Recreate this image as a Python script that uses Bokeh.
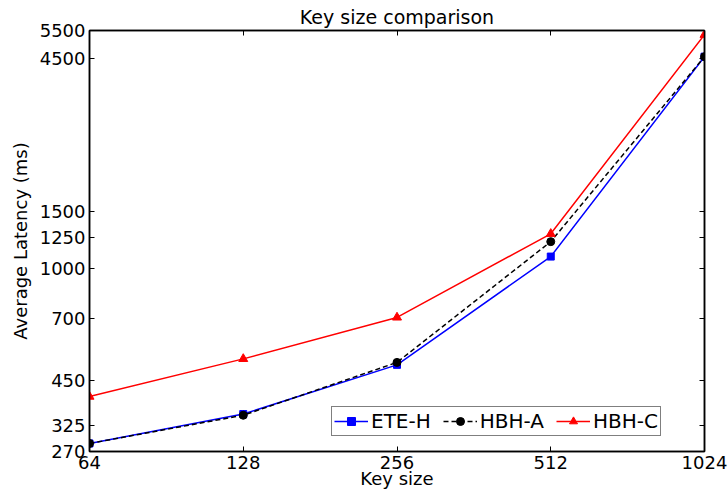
from bokeh.plotting import figure
from bokeh.models import FixedTicker, LogAxis, Legend, LegendItem, CustomJSTickFormatter
from bokeh.embed import file_html
from bokeh.resources import INLINE

key_sizes = [64, 128, 256, 512, 1024]
ete_h = [286, 353, 502, 1090, 4560]
hbh_a = [286, 350, 511, 1213, 4560]
hbh_c = [400, 524, 705, 1283, 5335]

x_ticks = [64, 128, 256, 512, 1024]
y_ticks = [270, 325, 450, 700, 1000, 1250, 1500, 4500, 5500]

FONT = "DejaVu Sans"
FS = "18px"

p = figure(width=728, height=494, x_axis_type="log", y_axis_type="log",
           x_range=(64, 1024), y_range=(270, 5500),
           output_backend="svg", toolbar_location=None,
           min_border_left=89, min_border_right=24, min_border_top=30, min_border_bottom=43)
p.title.text = "Key size comparison"
p.title.align = "center"
p.title.text_font = FONT
p.title.text_font_size = "19px"
p.title.text_font_style = "normal"
p.title.text_color = "black"
p.title.standoff = 6

p.grid.visible = False
p.outline_line_color = "black"
p.outline_line_width = 1.5
p.background_fill_color = "white"
p.border_fill_color = "white"

p.xaxis.ticker = FixedTicker(ticks=x_ticks)
p.yaxis.ticker = FixedTicker(ticks=y_ticks)
p.xaxis.major_label_overrides = {t: str(t) for t in x_ticks}
p.yaxis.major_label_overrides = {t: str(t) for t in y_ticks}
for ax in [p.xaxis[0], p.yaxis[0]]:
    ax.major_tick_in = 5
    ax.major_tick_out = 0
    ax.minor_tick_in = 0
    ax.minor_tick_out = 0
    ax.axis_line_width = 1.5
    ax.axis_line_color = "black"
    ax.major_tick_line_color = "black"
    ax.major_label_text_font = FONT
    ax.major_label_text_font_size = FS
    ax.major_label_text_color = "black"
    ax.axis_label_text_font = FONT
    ax.axis_label_text_font_size = FS
    ax.axis_label_text_font_style = "normal"
    ax.axis_label_text_color = "black"
p.xaxis.axis_label = "Key size"
p.yaxis.axis_label = "Average Latency (ms)"
p.xaxis.major_label_standoff = 4
p.xaxis.axis_label_standoff = -4
p.yaxis.major_label_standoff = 4
p.yaxis.axis_label_standoff = 6

top = LogAxis(ticker=FixedTicker(ticks=x_ticks), major_tick_in=5, major_tick_out=0,
              minor_tick_in=0, minor_tick_out=0, formatter=CustomJSTickFormatter(code="return ''"),
              major_label_standoff=0, axis_line_width=1.5, axis_line_color="black")
right = LogAxis(ticker=FixedTicker(ticks=y_ticks), major_tick_in=5, major_tick_out=0,
                minor_tick_in=0, minor_tick_out=0, formatter=CustomJSTickFormatter(code="return ''"),
                major_label_standoff=0, axis_line_width=1.5, axis_line_color="black")
p.add_layout(top, "above")
p.add_layout(right, "right")

l1 = p.line(key_sizes, ete_h, line_color="blue", line_width=1.5)
m1 = p.scatter(key_sizes, ete_h, marker="square", size=7, color="blue")
l2 = p.line(key_sizes, hbh_a, line_color="black", line_width=1.5, line_dash="5 3")
m2 = p.scatter(key_sizes, hbh_a, marker="circle", size=8, color="black")
l3 = p.line(key_sizes, hbh_c, line_color="red", line_width=1.5)
m3 = p.scatter(key_sizes, hbh_c, marker="triangle", size=9, color="red")

legend = Legend(items=[LegendItem(label="ETE-H", renderers=[l1, m1]),
                       LegendItem(label="HBH-A", renderers=[l2, m2]),
                       LegendItem(label="HBH-C", renderers=[l3, m3])],
                orientation="horizontal", location=(242, 15),
                border_line_color="black", border_line_width=1.2,
                background_fill_alpha=1, label_text_font=FONT,
                label_text_font_size="20px", label_text_color="black",
                glyph_width=34, glyph_height=20,
                label_standoff=3, spacing=12, padding=2, margin=0)
p.add_layout(legend, "center")

open("out.html", "w").write(file_html(p, INLINE))
